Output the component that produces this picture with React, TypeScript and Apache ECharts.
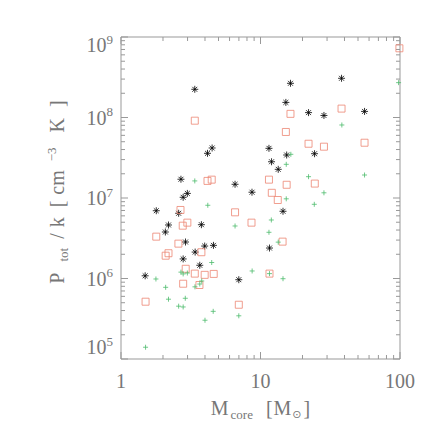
import React, { useEffect, useRef } from "react";
import * as echarts from "echarts";

// Black asterisks
const blackX = [3.38, 4.5, 4.17, 2.69, 6.57, 2.99, 2.79, 38.1, 16.4, 15.2, 22.1, 28.5, 55.7, 11.5, 15.4, 24.4, 12.0, 13.4, 8.69, 1.79, 2.59, 2.19, 3.77, 2.08, 2.9, 3.4, 3.98, 4.6, 11.6, 2.79, 3.67, 1.49, 6.99, 14.5];
const blackY = [2.24e8, 4.18e7, 3.59e7, 1.71e7, 1.48e7, 1.14e7, 1.02e7, 3.07e8, 2.66e8, 1.54e8, 1.15e8, 1.06e8, 1.19e8, 4.14e7, 3.42e7, 3.55e7, 2.82e7, 2.27e7, 1.18e7, 6.95e6, 6.46e6, 4.62e6, 4.66e6, 3.78e6, 2.84e6, 2.13e6, 2.53e6, 2.58e6, 2.39e6, 1.75e6, 1.46e6, 1.08e6, 9.66e5, 6.84e6];

// Red open squares
const redX = [3.38, 4.17, 4.47, 99, 16.4, 38.1, 15.2, 22.1, 28.5, 55.7, 11.5, 15.4, 24.5, 12.05, 13.3, 2.67, 6.57, 2.77, 2.99, 8.62, 1.79, 2.58, 3.77, 2.19, 2.09, 14.4, 2.91, 3.38, 3.98, 4.62, 11.6, 2.79, 3.65, 1.5, 6.99];
const redY = [9.13e7, 1.63e7, 1.69e7, 7.24e8, 1.11e8, 1.29e8, 6.61e7, 4.72e7, 4.34e7, 4.86e7, 1.69e7, 1.46e7, 1.51e7, 1.16e7, 9.44e6, 7.1e6, 6.64e6, 4.53e6, 4.94e6, 4.94e6, 3.31e6, 2.71e6, 2.12e6, 2.06e6, 1.92e6, 2.87e6, 1.32e6, 1.15e6, 1.11e6, 1.14e6, 1.15e6, 8.61e5, 8.3e5, 5.15e5, 4.72e5];

// Green plus signs
const greenX = [3.38, 97.7, 38.3, 16.5, 15.3, 22.1, 55.7, 28.5, 15.3, 24.3, 4.19, 6.57, 11.96, 11.5, 13.4, 4.47, 2.69, 2.79, 2.99, 8.71, 11.6, 14.5, 1.78, 3.79, 3.67, 3.39, 2.09, 2.19, 2.89, 2.59, 2.79, 4.58, 4.0, 6.99, 1.5];
const greenY = [1.63e7, 2.71e8, 8.07e7, 3.49e7, 2.62e7, 1.84e7, 1.93e7, 1.16e7, 9.77e6, 8.35e6, 8.12e6, 4.49e6, 5.33e6, 3.75e6, 2.83e6, 1.58e6, 1.2e6, 1.14e6, 1.17e6, 1.24e6, 1.15e6, 9.94e5, 9.86e5, 9.31e5, 8.54e5, 7.88e5, 7.77e5, 5.53e5, 5.68e5, 4.53e5, 4.43e5, 3.91e5, 3.03e5, 3.44e5, 1.4e5];

// Axis extents and tick values
const xMin = 1;
const xMax = 100;
const yMin = 1e5;
const yMax = 1e9;
const xTickValues = [1, 2, 3, 4, 5, 6, 7, 8, 9, 10, 20, 30, 40, 50, 60, 70, 80, 90, 100];
const yTickValues = [
  1e5, 2e5, 3e5, 4e5, 5e5, 6e5, 7e5, 8e5, 9e5,
  1e6, 2e6, 3e6, 4e6, 5e6, 6e6, 7e6, 8e6, 9e6,
  1e7, 2e7, 3e7, 4e7, 5e7, 6e7, 7e7, 8e7, 9e7,
  1e8, 2e8, 3e8, 4e8, 5e8, 6e8, 7e8, 8e8, 9e8,
  1e9,
];

const AXIS_COLOR = "#999999";
const TEXT_COLOR = "#777777";
const FONT = "Liberation Serif";

const zip = (xs: number[], ys: number[]) => xs.map((x, i) => [x, ys[i]]);
const isMajor = (v: number) => Math.abs(Math.log10(v) - Math.round(Math.log10(v))) < 1e-9;

const ASTERISK = "path://M0 -10 L0 10 M-10 0 L10 0 M-7 -7 L7 7 M-7 7 L7 -7";
const PLUS = "path://M0 -10 L0 10 M-10 0 L10 0";

// rich-text token style; vertical padding shifts a middle-aligned token by (top - bottom) / 2
const tok = (fontSize: number, padding: number[] = [0, 0, 0, 0], fontFamily: string = FONT) => ({
  fontSize,
  lineHeight: fontSize,
  color: TEXT_COLOR,
  fontFamily,
  padding,
});

export default function App() {
  const ref = useRef<HTMLDivElement>(null);

  useEffect(() => {
    if (!ref.current) return;
    const chart = echarts.init(ref.current, null, { renderer: "svg" });

    const option: any = {
      animation: false,
      backgroundColor: "#ffffff",
      grid: {
        left: 121,
        top: 37,
        right: 36,
        bottom: 77,
        show: true,
        borderColor: AXIS_COLOR,
        borderWidth: 1,
        backgroundColor: "transparent",
      },
      xAxis: {
        type: "log",
        logBase: 10,
        min: xMin,
        max: xMax,
        axisLine: { show: false },
        axisTick: { show: false },
        splitLine: { show: false },
        axisLabel: {
          color: TEXT_COLOR,
          fontFamily: FONT,
          fontSize: 20,
          lineHeight: 20,
          margin: 12,
          showMinLabel: true,
          showMaxLabel: true,
          formatter: (v: number) => String(Math.round(v)),
        },
        name: "{M|M}{core|core}{lb|[}{M|M}{sun|\u2299}{rb|]}",
        nameLocation: "middle",
        nameGap: 37,
        nameTextStyle: {
          color: TEXT_COLOR,
          fontFamily: FONT,
          rich: {
            M: tok(20),
            core: tok(13, [12, 3, 0, 2]),
            lb: tok(20, [0, 1, 0, 10]),
            sun: tok(11, [12, 1, 0, 1], "DejaVu Sans"),
            rb: tok(20, [0, 0, 0, 1]),
          },
        },
      },
      yAxis: {
        type: "log",
        logBase: 10,
        min: yMin,
        max: yMax,
        axisLine: { show: false },
        axisTick: { show: false },
        splitLine: { show: false },
        axisLabel: {
          color: TEXT_COLOR,
          fontFamily: FONT,
          margin: 8,
          showMinLabel: true,
          showMaxLabel: true,
          formatter: (v: number) => {
            const e = Math.round(Math.log10(v));
            if (e === 9) return `{bTop|10}{pTop|${e}}`;
            if (e === 5) return `{bBot|10}{pBot|${e}}`;
            return `{b|10}{p|${e}}`;
          },
          rich: {
            b: tok(20),
            p: tok(13, [0, 0, 12, 0]),
            bTop: tok(20, [16, 0, 0, 0]),
            pTop: tok(13, [4, 0, 0, 0]),
            bBot: tok(20, [0, 0, 24, 0]),
            pBot: tok(13, [0, 0, 36, 0]),
          },
        },
        name: "{P|P}{tot|tot}{sl|/}{k|k}{lb|[}{cm|cm}{sup|\u22123}{K|K}{rb|]}",
        nameLocation: "middle",
        nameRotate: 90,
        nameGap: 54,
        nameTextStyle: {
          color: TEXT_COLOR,
          fontFamily: FONT,
          rich: {
            P: tok(20, [0, 8, 0, 12]),
            tot: tok(13, [12, 4, 0, 3]),
            sl: tok(20, [0, 4, 0, 5]),
            k: tok(20, [0, 8, 0, 2]),
            lb: tok(20, [0, 2, 0, 2]),
            cm: tok(20, [0, 3, 0, 4]),
            sup: tok(13, [0, 8, 12, 6]),
            K: tok(20, [0, 4, 0, 7]),
            rb: tok(20, [0, 0, 0, 7]),
          },
        },
      },
      series: [
        {
          type: "scatter",
          name: "black",
          silent: true,
          symbol: ASTERISK,
          symbolSize: 7,
          itemStyle: { color: "none", borderColor: "#000000", borderWidth: 1 },
          data: zip(blackX, blackY),
          z: 2,
        },
        {
          type: "scatter",
          name: "red",
          silent: true,
          symbol: "rect",
          symbolSize: 7,
          itemStyle: { color: "none", borderColor: "#ec8673", borderWidth: 1 },
          data: zip(redX, redY),
          z: 3,
        },
        {
          type: "scatter",
          name: "green",
          silent: true,
          symbol: PLUS,
          symbolSize: 5,
          itemStyle: { color: "none", borderColor: "#4dbb6d", borderWidth: 1 },
          data: zip(greenX, greenY),
          z: 4,
        },
      ],
    };

    chart.setOption(option);

    // Inward ticks on all four sides, positioned through the axes' own scales
    const toPx = (p: number[]) => chart.convertToPixel({ gridIndex: 0 }, p) as number[];
    const lineStyle = { stroke: AXIS_COLOR, lineWidth: 1 };
    const ticks: any[] = [];
    xTickValues.forEach((v) => {
      const len = isMajor(v) ? 7 : 4;
      const b = toPx([v, yMin]);
      const t = toPx([v, yMax]);
      ticks.push({ type: "line", silent: true, shape: { x1: b[0], y1: b[1], x2: b[0], y2: b[1] - len }, style: lineStyle });
      ticks.push({ type: "line", silent: true, shape: { x1: t[0], y1: t[1], x2: t[0], y2: t[1] + len }, style: lineStyle });
    });
    yTickValues.forEach((v) => {
      const len = isMajor(v) ? 7 : 4;
      const l = toPx([xMin, v]);
      const r = toPx([xMax, v]);
      ticks.push({ type: "line", silent: true, shape: { x1: l[0], y1: l[1], x2: l[0] + len, y2: l[1] }, style: lineStyle });
      ticks.push({ type: "line", silent: true, shape: { x1: r[0], y1: r[1], x2: r[0] - len, y2: r[1] }, style: lineStyle });
    });
    chart.setOption({ graphic: ticks });

    return () => chart.dispose();
  }, []);

  return (
    <div
      ref={ref}
      style={{ position: "fixed", left: 0, top: 0, width: 436, height: 436, background: "#fff" }}
    />
  );
}
